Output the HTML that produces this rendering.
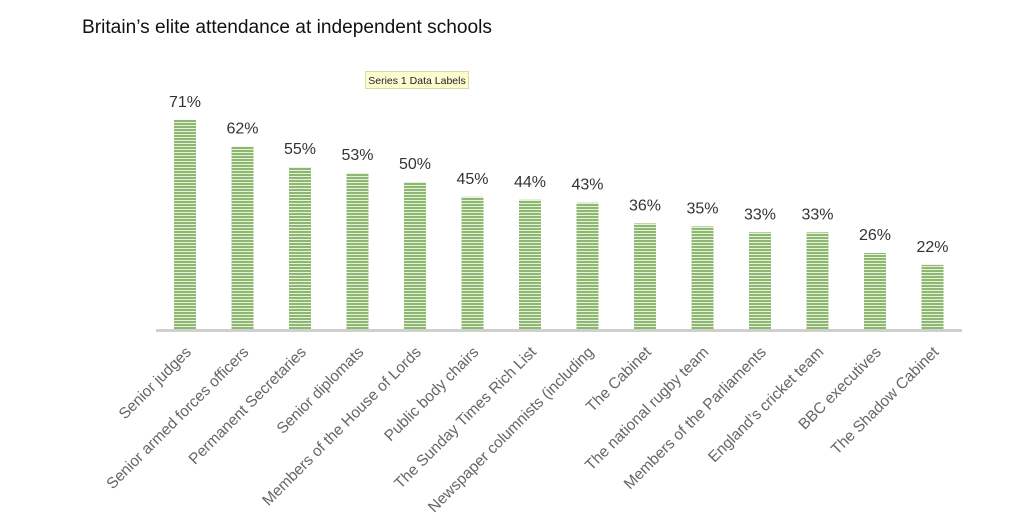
<!DOCTYPE html>
<html><head><meta charset="utf-8"><style>
body{margin:0;background:#fff;width:1035px;height:518px;overflow:hidden;font-family:"Liberation Sans",sans-serif}
</style></head><body>
<svg width="1035" height="518" xmlns="http://www.w3.org/2000/svg" font-family="Liberation Sans, sans-serif">
<defs>
<pattern id="st" width="4" height="3" patternUnits="userSpaceOnUse">
<rect width="4" height="3" fill="#e6f0dc"/><rect width="4" height="2" fill="#8db870"/>
</pattern>
</defs>
<text x="82" y="33" font-size="19" fill="#111" textLength="410" lengthAdjust="spacingAndGlyphs">Britain’s elite attendance at independent schools</text>
<rect x="365.5" y="71.5" width="103" height="17" fill="#fdfbd0" stroke="#ddd8a0"/>
<text x="417" y="84" font-size="10.5" fill="#222" text-anchor="middle">Series 1 Data Labels</text>
<g id="bars"></g>
<rect x="156" y="329" width="806" height="3" fill="#cfcfcf"/>
</svg>
<script>
var d=[["Senior judges",71],["Senior armed forces officers",62],["Permanent Secretaries",55],["Senior diplomats",53],["Members of the House of Lords",50],["Public body chairs",45],["The Sunday Times Rich List",44],["Newspaper columnists (including",43],["The Cabinet",36],["The national rugby team",35],["Members of the Parliaments",33],["England's cricket team",33],["BBC executives",26],["The Shadow Cabinet",22]];
var g=document.getElementById('bars'),s='';
d.forEach(function(e,i){var c=185+i*57.5,h=e[1]*2.96,t=330-h;
s+='<rect x="'+(c-11)+'" y="'+t+'" width="22" height="'+h+'" fill="url(#st)"/>';
s+='<text x="'+c+'" y="'+(t-13)+'" font-size="16" fill="#333" text-anchor="middle">'+e[1]+'%</text>';
s+='<text transform="translate('+(c+7)+',353) rotate(-45)" font-size="15.5" fill="#666" text-anchor="end">'+e[0].replace("'","’")+'</text>';});
g.innerHTML=s;
</script>
</body></html>
